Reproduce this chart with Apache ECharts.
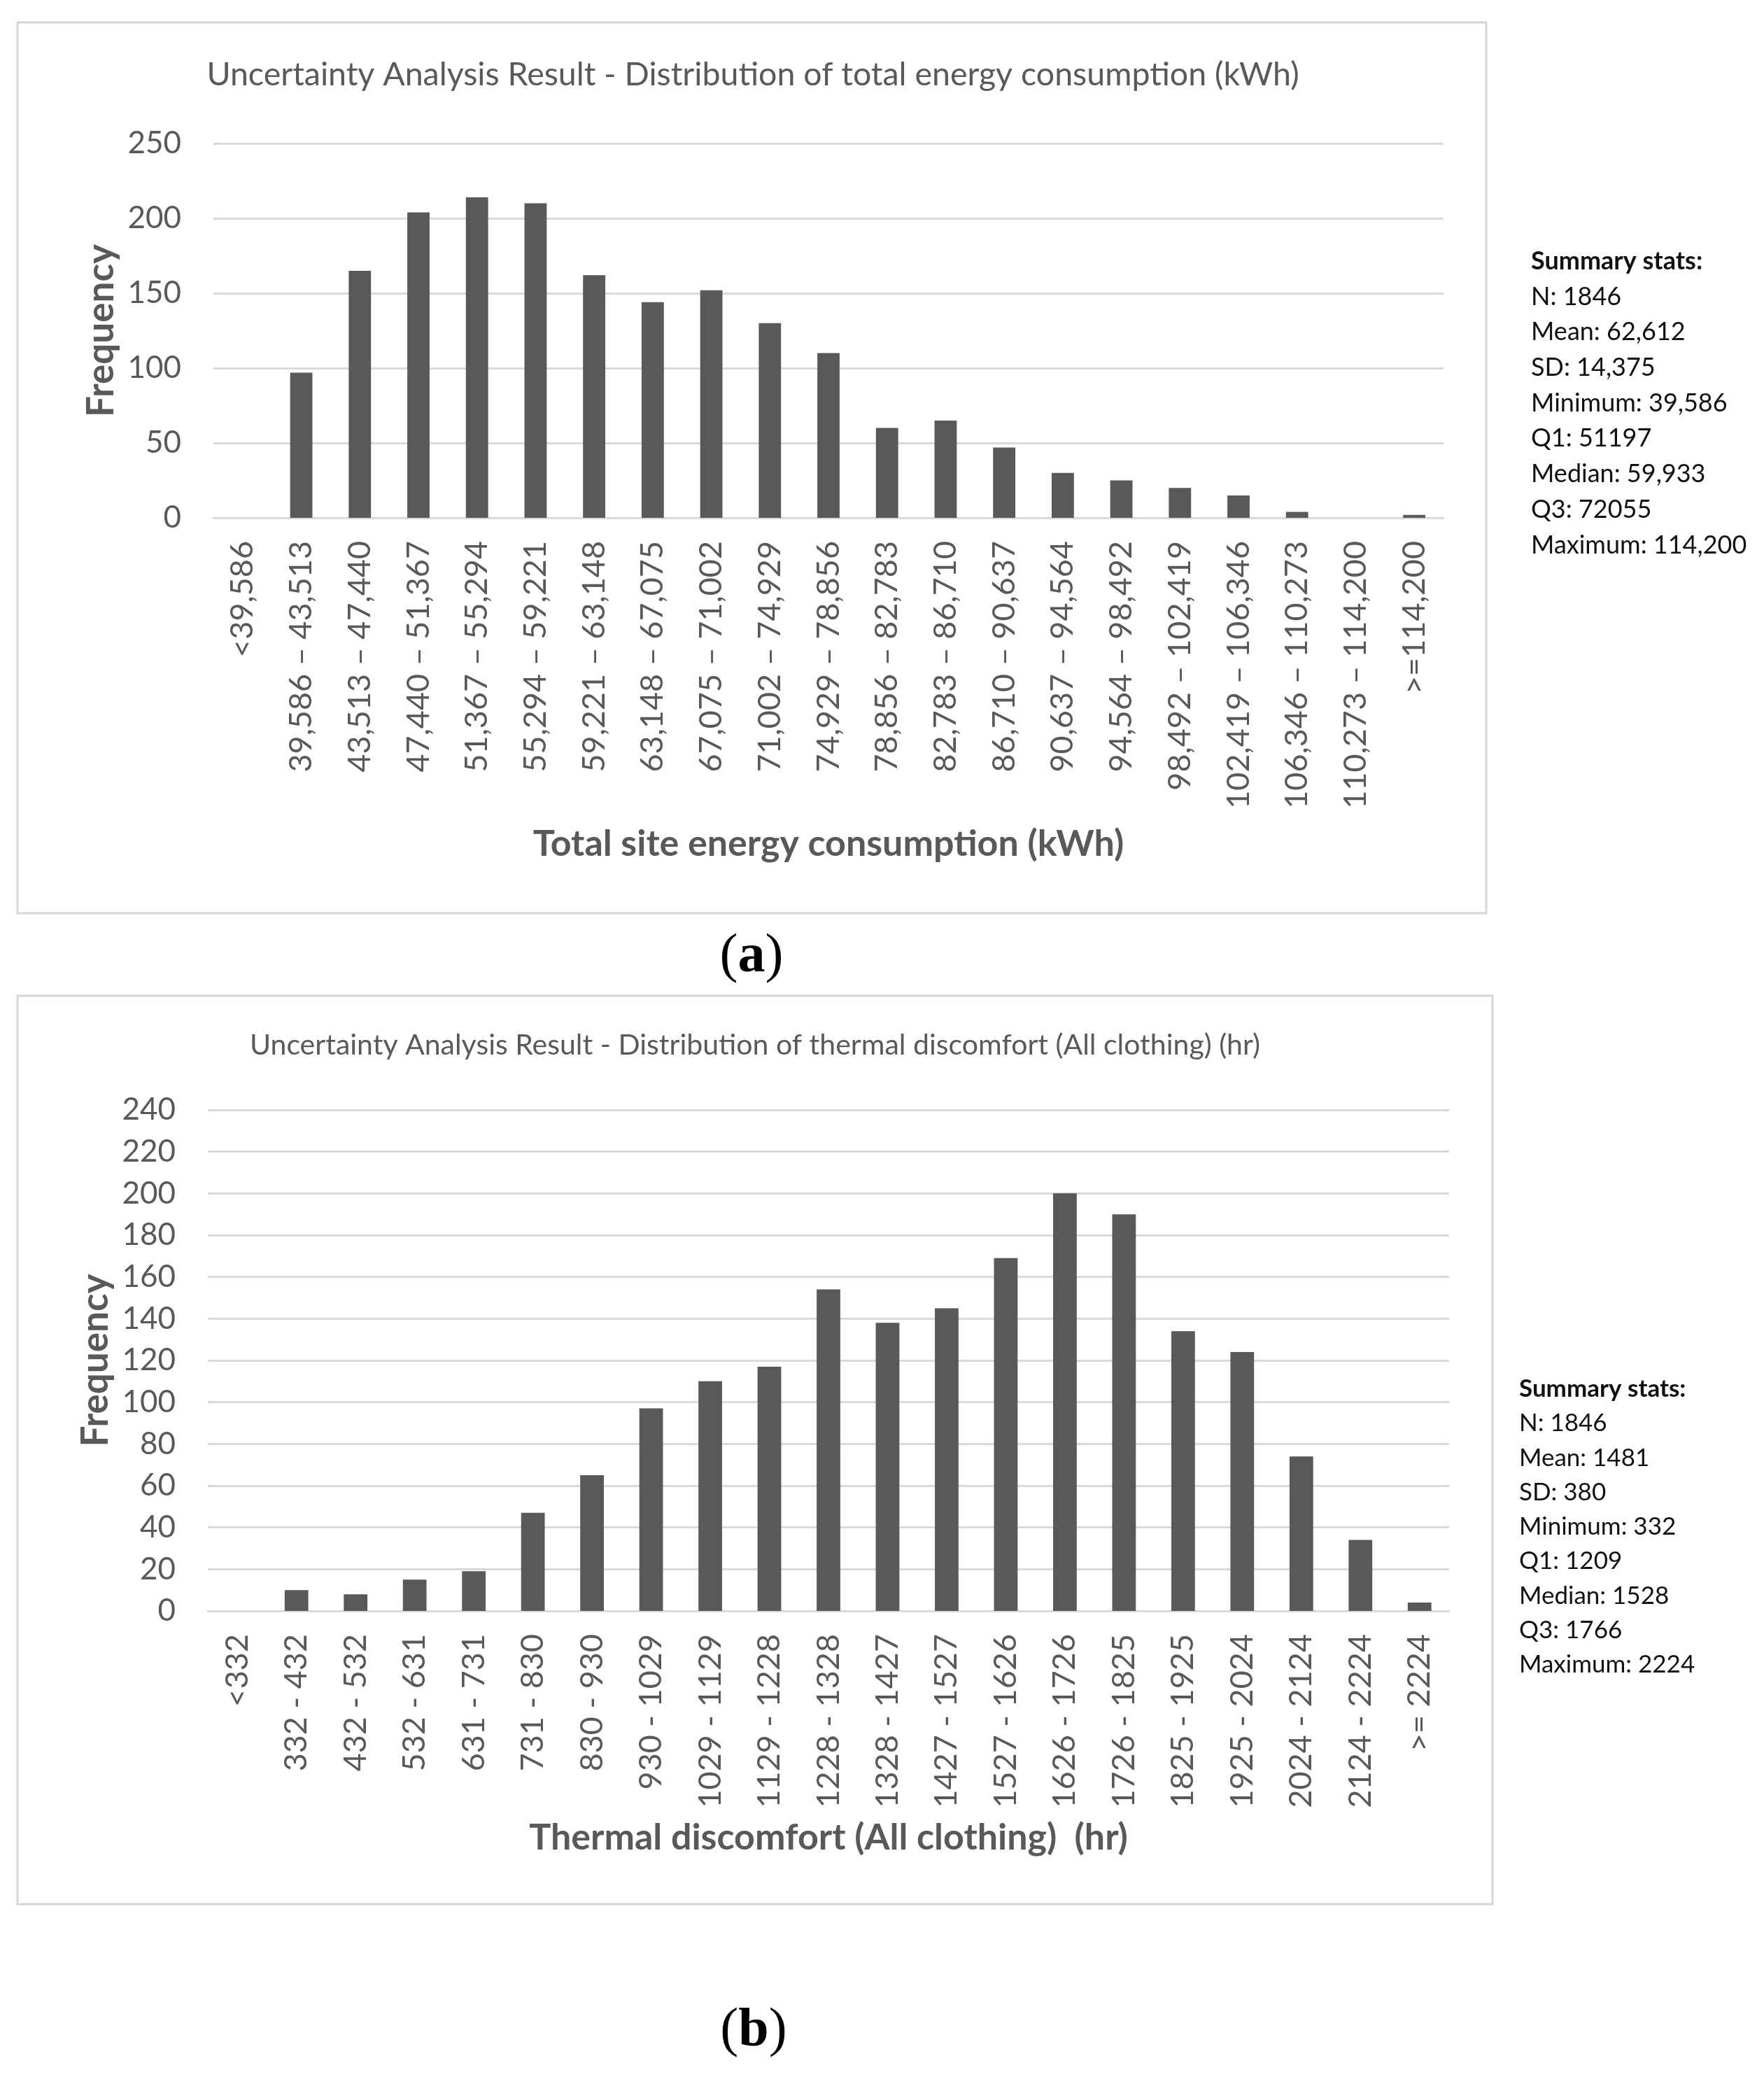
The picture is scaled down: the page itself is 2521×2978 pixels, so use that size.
<!DOCTYPE html>
<html>
<head>
<meta charset="utf-8">
<script src="https://cdn.jsdelivr.net/npm/echarts@6/dist/echarts.min.js"></script>
<style>
html,body{margin:0;padding:0;background:#fff;}
#chart{width:2521px;height:2978px;}
</style>
</head>
<body>
<div id="chart"></div>
<script>
// ---------- Data ----------
const titleA = 'Uncertainty Analysis Result - Distribution of total energy consumption (kWh)';
const xNameA = 'Total site energy consumption (kWh)';
const catsA = ['<39,586','39,586 – 43,513','43,513 – 47,440','47,440 – 51,367','51,367 – 55,294','55,294 – 59,221','59,221 – 63,148','63,148 – 67,075','67,075 – 71,002','71,002 – 74,929','74,929 – 78,856','78,856 – 82,783','82,783 – 86,710','86,710 – 90,637','90,637 – 94,564','94,564 – 98,492','98,492 – 102,419','102,419 – 106,346','106,346 – 110,273','110,273 – 114,200','>=114,200'];
const valsA = [0,97,165,204,214,210,162,144,152,130,110,60,65,47,30,25,20,15,4,0,2];
const statsA = ['N: 1846','Mean: 62,612','SD: 14,375','Minimum: 39,586','Q1: 51197','Median: 59,933','Q3: 72055','Maximum: 114,200'];

const titleB = 'Uncertainty Analysis Result - Distribution of thermal discomfort (All clothing) (hr)';
const xNameB = 'Thermal discomfort (All clothing)  (hr)';
const catsB = ['<332','332 - 432','432 - 532','532 - 631','631 - 731','731 - 830','830 - 930','930 - 1029','1029 - 1129','1129 - 1228','1228 - 1328','1328 - 1427','1427 - 1527','1527 - 1626','1626 - 1726','1726 - 1825','1825 - 1925','1925 - 2024','2024 - 2124','2124 - 2224','>= 2224'];
const valsB = [0,10,8,15,19,47,65,97,110,117,154,138,145,169,200,190,134,124,74,34,4];
const statsB = ['N: 1846','Mean: 1481','SD: 380','Minimum: 332','Q1: 1209','Median: 1528','Q3: 1766','Maximum: 2224'];

const yNameText = 'Frequency';
const statsHeader = 'Summary stats:';
const panelLabels = ['a', 'b'];

// ---------- Styles ----------
const GREY = '#595959';
const GRID_C = '#d9d9d9';
const FONT = 'Lato, "Open Sans", "Liberation Sans", sans-serif';

function txt(x, y, text, size, opts) {
  opts = opts || {};
  return {
    type: 'text', x: x, y: y, silent: true,
    style: Object.assign({
      text: text, fontSize: size, fontFamily: FONT, fontWeight: opts.weight || 'normal',
      fill: opts.fill || GREY,
      align: opts.align || 'left', verticalAlign: 'middle',
      textAlign: opts.align || 'left', textVerticalAlign: 'middle'
    }, opts.extra || {})
  };
}

const graphics = [];
// panel borders
graphics.push({type:'rect', silent:true, shape:{x:25,y:32,width:2099,height:1273}, style:{fill:'none',stroke:'#d6d6d6',lineWidth:3}});
graphics.push({type:'rect', silent:true, shape:{x:25,y:1423,width:2108,height:1298}, style:{fill:'none',stroke:'#d6d6d6',lineWidth:3}});
// titles
graphics.push(txt(1076, 107, titleA, 46.5, {align:'center'}));
graphics.push(txt(1079, 1494, titleB, 41, {align:'center'}));
// summary stats
graphics.push(txt(2188, 373, statsHeader, 36, {weight:'bold', fill:'#111'}));
statsA.forEach(function(s, i){ graphics.push(txt(2188, 424 + i*50.7, s, 36, {fill:'#111'})); });
graphics.push(txt(2171, 1985, statsHeader, 35, {weight:'bold', fill:'#111'}));
statsB.forEach(function(s, i){ graphics.push(txt(2171, 2034 + i*49.3, s, 35, {fill:'#111'})); });
// panel labels (a), (b)
[[1074,1368],[1077,2903]].forEach(function(p, i){
  graphics.push({
    type:'text', x:p[0], y:p[1], silent:true,
    style:{
      text:'{p|(}{l|' + panelLabels[i] + '}{p|)}',
      align:'center', verticalAlign:'middle', textAlign:'center', textVerticalAlign:'middle',
      rich:{
        p:{fontFamily:'"Liberation Serif", "DejaVu Serif", serif', fontSize:78, fill:'#000'},
        l:{fontFamily:'"Liberation Serif", "DejaVu Serif", serif', fontSize:78, fontWeight:'bold', fill:'#000'}
      }
    }
  });
});

function xAxisCfg(idx, cats, name, nameGap) {
  return {
    type:'category', gridIndex: idx, data: cats,
    name: name, nameLocation:'middle', nameGap: nameGap,
    nameTextStyle:{fontFamily:FONT, fontSize:52, fontWeight:'bold', color:GREY},
    axisTick:{show:false},
    axisLine:{show:true, lineStyle:{color:GRID_C, width:3}},
    axisLabel:{rotate:90, interval:0, margin:33, fontFamily:FONT, fontSize:45, color:GREY}
  };
}
function yAxisCfg(idx, max, interval, nameGap) {
  return {
    type:'value', gridIndex: idx, min:0, max:max, interval:interval,
    name: yNameText, nameLocation:'middle', nameGap: nameGap,
    nameTextStyle:{fontFamily:FONT, fontSize:53, fontWeight:'bold', color:GREY},
    axisLine:{show:false}, axisTick:{show:false},
    axisLabel:{margin:46, fontFamily:FONT, fontSize:44, color:GREY},
    splitLine:{show:true, lineStyle:{color:GRID_C, width:3}}
  };
}

const option = {
  animation:false,
  backgroundColor:'#fff',
  grid:[
    {left:305, right:458, top:205, height:535, containLabel:false, outerBoundsMode:'none'},
    {left:297, right:450, top:1586, height:716, containLabel:false, outerBoundsMode:'none'}
  ],
  xAxis:[ xAxisCfg(0, catsA, xNameA, 440), xAxisCfg(1, catsB, xNameB, 298) ],
  yAxis:[ yAxisCfg(0, 250, 50, 133), yAxisCfg(1, 240, 20, 125) ],
  series:[
    {type:'bar', xAxisIndex:0, yAxisIndex:0, data:valsA, barWidth:'38%', itemStyle:{color:GREY}},
    {type:'bar', xAxisIndex:1, yAxisIndex:1, data:valsB, barWidth:'40%', itemStyle:{color:GREY}}
  ],
  graphic: graphics
};

const chart = echarts.init(document.getElementById('chart'), null, {renderer:'canvas', width:2521, height:2978});
chart.setOption(option);
</script>
</body>
</html>
